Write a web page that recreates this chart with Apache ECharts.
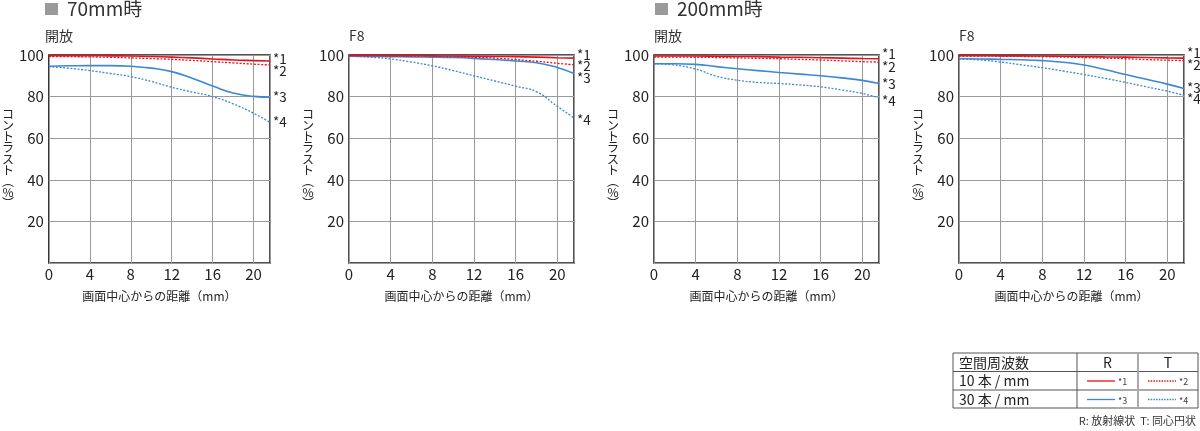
<!DOCTYPE html>
<html>
<head>
<meta charset="utf-8">
<script src="https://cdn.jsdelivr.net/npm/echarts@6/dist/echarts.min.js"></script>
<style>
  html, body { margin: 0; padding: 0; background: #fff; }
  #mtf_chart { width: 1200px; height: 431px; }
</style>
</head>
<body>
<div id="mtf_chart"></div>
<script>
// 画面中心からの距離 (mm)
var dist = [0, 2, 4, 6, 8, 10, 12, 14, 16, 18, 20, 21.6];

// 70mm 開放
var w70Open1 = [99.7, 99.7, 99.7, 99.6, 99.5, 99.3, 99.0, 98.6, 98.1, 97.6, 97.3, 97.1];
var w70Open2 = [99.3, 99.2, 99.1, 98.9, 98.6, 98.3, 97.9, 97.4, 96.8, 96.2, 95.6, 95.2];
var w70Open3 = [94.6, 94.8, 94.9, 94.9, 94.6, 93.7, 92.0, 88.8, 85.1, 81.7, 80.1, 79.7];
var w70Open4 = [94.4, 93.6, 92.5, 91.1, 89.6, 87.3, 84.5, 82.2, 80.0, 76.5, 72.0, 67.6];

// 70mm F8
var w70F8_1 = [99.8, 99.8, 99.7, 99.7, 99.6, 99.5, 99.4, 99.3, 99.2, 99.0, 98.7, 98.5];
var w70F8_2 = [99.7, 99.7, 99.6, 99.5, 99.4, 99.2, 98.9, 98.5, 97.8, 97.0, 96.0, 95.3];
var w70F8_3 = [99.4, 99.3, 99.2, 99.1, 99.0, 98.8, 98.4, 97.8, 97.1, 96.3, 94.0, 91.1];
var w70F8_4 = [99.4, 99.0, 98.1, 96.6, 94.8, 92.5, 90.0, 87.5, 85.0, 82.3, 75.3, 69.8];

// 200mm 開放
var t200Open1 = [99.5, 99.5, 99.5, 99.4, 99.3, 99.2, 99.0, 98.9, 98.7, 98.5, 98.3, 98.2];
var t200Open2 = [99.0, 99.0, 98.9, 98.8, 98.6, 98.4, 98.2, 97.9, 97.6, 97.2, 96.8, 96.6];
var t200Open3 = [95.8, 95.8, 95.5, 94.4, 93.4, 92.5, 91.6, 90.8, 90.0, 89.0, 87.8, 86.3];
var t200Open4 = [95.8, 95.2, 93.2, 89.8, 87.9, 86.8, 86.3, 85.6, 84.7, 83.2, 81.5, 79.4];

// 200mm F8
var t200F8_1 = [99.7, 99.7, 99.6, 99.6, 99.5, 99.4, 99.3, 99.1, 99.0, 98.8, 98.6, 98.5];
var t200F8_2 = [99.5, 99.5, 99.4, 99.3, 99.2, 99.0, 98.8, 98.5, 98.2, 97.8, 97.5, 97.3];
var t200F8_3 = [98.2, 98.1, 97.9, 97.7, 97.3, 96.5, 95.2, 93.0, 90.6, 88.3, 86.0, 83.9];
var t200F8_4 = [98.2, 97.6, 96.6, 95.3, 93.9, 92.3, 90.6, 88.8, 86.8, 84.7, 82.6, 80.6];

var yTicks = [20, 40, 60, 80, 100];
var xTicks = [0, 4, 8, 12, 16, 20];
var curveNames = ['*1', '*2', '*3', '*4'];

var RED = '#e5121c';
var BLUE = '#3b88d6';
var FONT = 'Noto Sans CJK JP';

var panels = [
  [w70Open1, w70Open2, w70Open3, w70Open4],
  [w70F8_1, w70F8_2, w70F8_3, w70F8_4],
  [t200Open1, t200Open2, t200Open3, t200Open4],
  [t200F8_1, t200F8_2, t200F8_3, t200F8_4]
];
var gridLefts = [45, 349, 654, 959];
// 右側の *1〜*4 ラベルの縦位置 (px)
var labelTops = [
  [59, 71, 97, 122],
  [55, 66, 78, 120],
  [54, 67, 84, 101],
  [53, 65, 88, 99]
];

var grids = [], xAxes = [], yAxes = [], series = [];

for (let p = 0; p < panels.length; p = p + 1) {
  grids.push({
    left: gridLefts[p],
    top: 55,
    width: 225,
    height: 208,
    show: true,
    borderColor: '#1a1a1a',
    borderWidth: 1.5,
    backgroundColor: 'transparent'
  });
  xAxes.push({
    gridIndex: p,
    type: 'value',
    min: 0,
    max: 21.6,
    interval: 4,
    name: '画面中心からの距離（mm）',
    nameLocation: 'middle',
    nameGap: 27,
    nameTextStyle: { fontSize: 12, color: '#222', fontFamily: FONT },
    axisLine: { show: false },
    axisTick: { show: false },
    axisLabel: {
      fontSize: 15, color: '#222', margin: 4, fontFamily: FONT,
      showMaxLabel: false,
      formatter: function (v) { return xTicks.indexOf(v) >= 0 ? String(v) : ''; }
    },
    splitLine: { show: true, lineStyle: { color: '#9a9a9a', width: 1 } }
  });
  yAxes.push({
    gridIndex: p,
    type: 'value',
    min: 0,
    max: 100,
    interval: 20,
    name: 'コ\nン\nト\nラ\nス\nト\n︵\n%\n︶',
    nameLocation: 'middle',
    nameRotate: 0,
    nameGap: 32,
    nameTextStyle: { fontSize: 12, lineHeight: 11.2, color: '#222', fontFamily: FONT, align: 'center' },
    axisLine: { show: false },
    axisTick: { show: false },
    axisLabel: {
      fontSize: 15, color: '#222', margin: 5, fontFamily: FONT,
      formatter: function (v) { return yTicks.indexOf(v) >= 0 ? String(v) : ''; }
    },
    splitLine: { show: true, lineStyle: { color: '#9a9a9a', width: 1 } }
  });

  let curves = panels[p];
  for (let i = 0; i < curves.length; i = i + 1) {
    let pts = [];
    for (let k = 0; k < dist.length; k = k + 1) {
      pts.push([dist[k], curves[i][k]]);
    }
    let isRed = i < 2;
    let dotted = i % 2 === 1;
    let labelTop = labelTops[p][i];
    series.push({
      name: curveNames[i],
      type: 'line',
      xAxisIndex: p,
      yAxisIndex: p,
      data: pts,
      smooth: 0.5,
      showSymbol: false,
      symbol: 'none',
      z: isRed ? 4 : 3,
      lineStyle: {
        color: isRed ? RED : BLUE,
        width: dotted ? 1.3 : 1.6,
        type: dotted ? [2, 1.6] : 'solid'
      },
      endLabel: {
        show: true,
        formatter: curveNames[i],
        color: '#222',
        fontSize: 13.5,
        fontFamily: FONT,
        distance: 3
      },
      labelLayout: function () {
        return { y: labelTop, verticalAlign: 'middle' };
      }
    });
  }
}

// 見出し
var headerGraphics = [
  { type: 'rect', shape: { x: 45, y: 3, width: 13, height: 12 }, style: { fill: '#9a9a9a' } },
  { type: 'text', x: 67, y: 9, style: { text: '70mm時', fontSize: 19, fontFamily: FONT, fill: '#333', verticalAlign: 'middle' } },
  { type: 'rect', shape: { x: 655, y: 3, width: 13, height: 12 }, style: { fill: '#9a9a9a' } },
  { type: 'text', x: 677, y: 9, style: { text: '200mm時', fontSize: 19, fontFamily: FONT, fill: '#333', verticalAlign: 'middle' } },
  { type: 'text', x: 45, y: 36, style: { text: '開放', fontSize: 14, fontFamily: FONT, fill: '#333', verticalAlign: 'middle' } },
  { type: 'text', x: 349, y: 36, style: { text: 'F8', fontSize: 14, fontFamily: FONT, fill: '#333', verticalAlign: 'middle' } },
  { type: 'text', x: 654, y: 36, style: { text: '開放', fontSize: 14, fontFamily: FONT, fill: '#333', verticalAlign: 'middle' } },
  { type: 'text', x: 959, y: 36, style: { text: 'F8', fontSize: 14, fontFamily: FONT, fill: '#333', verticalAlign: 'middle' } }
];

// 凡例の表
var tL = 953, tR = 1198, rows = [353, 371.5, 390, 408], cols = [953, 1077, 1138, 1198];
var tableGraphics = [];
tableGraphics.push({ type: 'rect', shape: { x: tL, y: rows[0], width: tR - tL, height: rows[3] - rows[0] }, style: { fill: 'none', stroke: '#555', lineWidth: 1 } });
tableGraphics.push({ type: 'line', shape: { x1: tL, y1: rows[1], x2: tR, y2: rows[1] }, style: { stroke: '#555', lineWidth: 1 } });
tableGraphics.push({ type: 'line', shape: { x1: tL, y1: rows[2], x2: tR, y2: rows[2] }, style: { stroke: '#555', lineWidth: 1 } });
tableGraphics.push({ type: 'line', shape: { x1: cols[1], y1: rows[0], x2: cols[1], y2: rows[3] }, style: { stroke: '#555', lineWidth: 1 } });
tableGraphics.push({ type: 'line', shape: { x1: cols[2], y1: rows[0], x2: cols[2], y2: rows[3] }, style: { stroke: '#aaa', lineWidth: 2 } });
var cellTxt = function (text, x, y, align) {
  return { type: 'text', x: x, y: y, style: { text: text, fontSize: 14, fontFamily: FONT, fill: '#222', align: align || 'left', verticalAlign: 'middle' } };
};
tableGraphics.push(cellTxt('空間周波数', 959, 362.5));
tableGraphics.push(cellTxt('10 本 / mm', 959, 381));
tableGraphics.push(cellTxt('30 本 / mm', 959, 399.5));
tableGraphics.push(cellTxt('R', 1107.5, 362.5, 'center'));
tableGraphics.push(cellTxt('T', 1168, 362.5, 'center'));
var sample = function (x, y, color, dotted, label) {
  return [
    { type: 'line', shape: { x1: x, y1: y, x2: x + 28, y2: y }, style: { stroke: color, lineWidth: 1.3, lineDash: dotted ? [1.5, 1.2] : null } },
    { type: 'text', x: x + 31, y: y + 1, style: { text: label, fontSize: 9, fontFamily: FONT, fill: '#444', verticalAlign: 'middle' } }
  ];
};
tableGraphics = tableGraphics
  .concat(sample(1087, 381, RED, false, '*1'))
  .concat(sample(1148, 381, RED, true, '*2'))
  .concat(sample(1087, 399.5, BLUE, false, '*3'))
  .concat(sample(1148, 399.5, BLUE, true, '*4'));
tableGraphics.push({ type: 'text', x: 1196, y: 421, style: { text: 'R: 放射線状  T: 同心円状', fontSize: 11, fontFamily: FONT, fill: '#333', align: 'right', verticalAlign: 'middle' } });

var chartDom = document.getElementById('mtf_chart');
var myChart = echarts.init(chartDom);
var option = {
  animation: false,
  backgroundColor: '#fff',
  textStyle: { fontFamily: FONT },
  grid: grids,
  xAxis: xAxes,
  yAxis: yAxes,
  series: series,
  graphic: headerGraphics.concat(tableGraphics)
};
option && myChart.setOption(option);
</script>
</body>
</html>
